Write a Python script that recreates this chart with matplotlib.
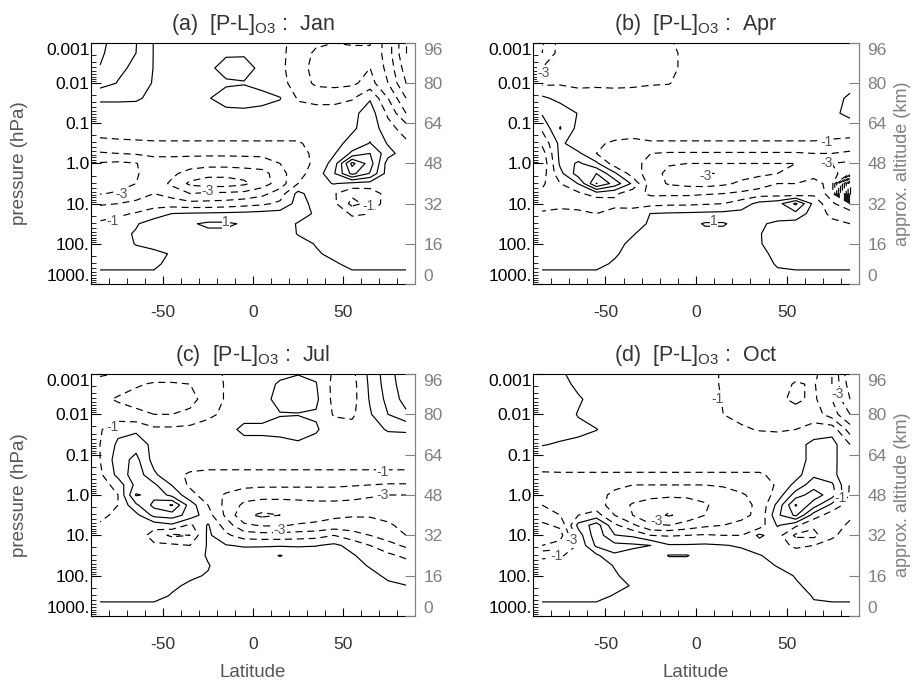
import numpy as np
import matplotlib
matplotlib.use('Agg')
import matplotlib.pyplot as plt

plt.rcParams['font.family'] = ['Liberation Sans', 'DejaVu Sans']
plt.rcParams['mathtext.fontset'] = 'custom'
plt.rcParams['mathtext.rm'] = 'Liberation Sans'
plt.rcParams['axes.unicode_minus'] = False

# grid: latitude columns, approx. altitude rows (km, top to bottom)
lats = [-85, -75, -65, -55, -45, -35, -25, -15, -5, 5, 15, 25, 35, 45, 55, 65, 75, 85]
alt_km = [98, 92, 86, 80, 74, 68, 62, 56, 52, 48, 44, 40, 36, 32, 28, 24, 20, 16, 12, 8, 5]

# ozone P-L, rows follow alt_km, columns follow lats
pl_jan = [
    [2.3, 1.6, 1.05, -0.05, -0.3, -0.3, -0.3, -0.2, -0.2, -0.3, -0.8, -1.3, -1.6, -1.8, -1.7, -1.9, -3.5, -6.0],
    [2.2, 1.4, 1.0, -0.05, -0.3, -0.3, -0.3, -0.1, -0.1, -0.3, -0.8, -1.4, -2.2, -2.4, -2.3, -2.1, -3.5, -6.0],
    [1.95, 1.2, 0.8, -0.05, -0.3, -0.3, -0.15, 0.25, 0.3, -0.2, -0.8, -1.5, -2.4, -2.6, -2.5, -2.0, -3.3, -5.5],
    [1.45, 0.95, 0.6, -0.1, -0.3, -0.3, -0.2, -0.1, -0.05, -0.3, -0.7, -1.4, -2.2, -2.3, -2.2, -1.6, -3.0, -5.0],
    [0.1, 0.1, 0.08, -0.15, -0.3, -0.3, -0.05, 0.3, 0.4, 0.3, 0.05, -1.1, -1.3, -1.3, -1.1, -0.1, -2.0, -4.0],
    [-0.3, -0.3, -0.3, -0.3, -0.4, -0.4, -0.3, -0.2, -0.2, -0.3, -0.4, -0.6, -0.6, -0.6, -0.3, 0.5, -1.2, -3.0],
    [-0.5, -0.5, -0.5, -0.5, -0.5, -0.5, -0.5, -0.5, -0.5, -0.5, -0.5, -0.5, -0.5, -0.5, -0.2, 0.6, -0.6, -1.5],
    [-1.3, -1.2, -1.15, -1.1, -1.1, -1.1, -1.1, -1.1, -1.1, -1.1, -1.1, -1.1, -0.7, -0.4, 0.4, 1.05, -0.1, -0.8],
    [-2.1, -2.0, -1.9, -1.8, -1.8, -1.8, -1.8, -1.8, -1.8, -1.8, -1.6, -1.3, -0.8, -0.1, 1.2, 2.0, 0.4, -0.6],
    [-3.1, -3.2, -3.05, -2.4, -2.4, -2.5, -2.6, -2.6, -2.5, -2.4, -2.0, -1.4, -0.8, 0.4, 4.3, 2.5, -0.5, -0.8],
    [-3.4, -3.4, -3.1, -2.5, -2.8, -3.4, -3.7, -3.7, -3.6, -3.4, -2.4, -1.3, -0.6, 0.9, 3.3, 1.9, -0.5, -0.9],
    [-3.3, -3.3, -3.0, -2.4, -3.2, -4.2, -4.5, -4.5, -4.2, -3.5, -2.5, -1.0, -0.3, 0.05, -0.3, -0.4, -0.5, -0.6],
    [-3.05, -2.9, -2.4, -2.0, -2.4, -3.0, -2.8, -2.8, -2.7, -2.3, -1.5, 0.3, -0.6, -0.9, -1.8, -1.6, -0.6, -0.4],
    [-2.1, -2.0, -1.8, -1.4, -1.5, -1.7, -1.7, -1.6, -1.4, -1.2, -0.8, 0.4, -0.3, -0.8, -2.3, -1.7, -0.5, -0.3],
    [-1.5, -1.2, -0.9, -0.5, 0.02, 0.1, 0.15, 0.2, 0.25, 0.35, 0.4, 0.6, -0.2, -0.5, -1.1, -1.0, -0.4, -0.2],
    [-0.8, -0.6, -0.1, 0.5, 0.8, 0.9, 1.15, 1.15, 0.9, 0.7, 0.6, -0.1, -0.3, -0.4, -0.7, -0.6, -0.3, -0.2],
    [-0.5, -0.3, 0.1, 0.5, 0.6, 0.7, 0.8, 0.8, 0.7, 0.6, 0.5, -0.05, -0.3, -0.4, -0.5, -0.4, -0.3, -0.2],
    [-0.4, -0.4, 0.05, 0.4, 0.5, 0.6, 0.6, 0.6, 0.6, 0.5, 0.5, 0.3, -0.05, -0.3, -0.4, -0.3, -0.3, -0.2],
    [-0.3, -0.3, -0.3, -0.3, 0.1, 0.4, 0.5, 0.5, 0.5, 0.5, 0.4, 0.3, 0.1, -0.2, -0.3, -0.3, -0.2, -0.2],
    [-0.2, -0.2, -0.2, -0.2, 0.3, 0.4, 0.4, 0.4, 0.4, 0.4, 0.4, 0.3, 0.2, 0.1, -0.2, -0.2, -0.2, -0.2],
    [0.05, 0.05, 0.05, 0.05, 0.3, 0.3, 0.3, 0.3, 0.3, 0.3, 0.3, 0.3, 0.2, 0.2, 0.05, 0.05, 0.05, 0.05],
]

pl_apr = [
    [-3.2, -1.6, -1.3, -1.3, -1.2, -1.2, -1.1, -1.05, -0.7, -0.5, -0.4, -0.3, -0.3, -0.3, -0.3, -0.3, -0.3, -0.3],
    [-3.0, -1.6, -1.4, -1.4, -1.3, -1.25, -1.2, -1.2, -0.8, -0.5, -0.4, -0.3, -0.3, -0.3, -0.3, -0.3, -0.3, -0.3],
    [-2.0, -1.5, -1.5, -1.4, -1.3, -1.3, -1.3, -1.2, -0.8, -0.5, -0.4, -0.3, -0.3, -0.3, -0.3, -0.3, -0.3, -0.3],
    [-1.2, -1.1, -1.2, -1.2, -1.2, -1.2, -1.1, -1.05, -0.6, -0.4, -0.4, -0.3, -0.3, -0.3, -0.3, -0.3, -0.3, -0.3],
    [0.2, -0.3, -0.6, -0.5, -0.6, -0.5, -0.4, -0.4, -0.3, -0.3, -0.3, -0.3, -0.3, -0.3, -0.3, -0.3, -0.3, 0.15],
    [0.1, 0.6, -0.05, -0.4, -0.4, -0.4, -0.3, -0.3, -0.3, -0.3, -0.3, -0.3, -0.3, -0.3, -0.3, -0.3, -0.2, 0.25],
    [-0.8, 1.05, -0.3, -0.5, -0.6, -0.6, -0.5, -0.5, -0.5, -0.5, -0.5, -0.5, -0.5, -0.5, -0.5, -0.5, -0.5, -0.5],
    [-1.8, 0.3, -0.8, -0.9, -1.1, -1.2, -1.1, -1.1, -1.1, -1.1, -1.1, -1.1, -1.1, -1.1, -1.1, -1.1, -1.2, -1.3],
    [-2.5, 0.3, 0.2, -1.0, -1.3, -1.6, -2.0, -2.1, -2.1, -2.1, -2.1, -2.1, -2.1, -2.1, -2.1, -2.0, -2.0, -2.2],
    [-2.8, 0.2, 1.2, 0.2, -1.5, -1.6, -2.4, -2.9, -3.0, -3.0, -3.0, -3.0, -3.0, -3.0, -3.0, -2.9, -3.0, -3.2],
    [-2.5, -0.3, 1.5, 2.0, 0.2, -1.5, -2.5, -3.3, -3.7, -4.1, -3.9, -3.4, -3.2, -3.0, -2.8, -2.5, -2.5, -4.0],
    [-2.2, -1.0, 0.05, 3.05, 1.6, -0.2, -2.5, -3.1, -3.3, -3.4, -3.2, -2.8, -2.5, -2.0, -2.0, -1.5, -2.5, -12.0],
    [-1.8, -1.5, -1.2, -0.5, -0.8, -1.6, -2.2, -2.2, -2.2, -2.1, -2.0, -1.8, -1.5, -1.5, -1.8, -1.2, -2.5, -12.0],
    [-1.3, -1.2, -1.5, -1.8, -1.3, -1.5, -1.3, -1.2, -1.2, -1.1, -1.0, -0.5, 0.3, 0.6, 2.2, -0.3, -1.8, -3.0],
    [-0.9, -0.8, -0.7, -1.0, -0.6, -0.4, 0.02, 0.1, 0.15, 0.2, 0.25, 0.3, 0.4, 0.8, 0.7, -0.5, -1.2, -1.5],
    [-0.6, -0.5, -0.5, -0.6, -0.3, -0.3, 0.1, 0.5, 0.6, 1.1, 1.1, 0.6, 0.2, -0.3, -0.4, -0.6, -0.8, -1.0],
    [-0.4, -0.4, -0.4, -0.4, -0.1, -0.05, 0.3, 0.5, 0.6, 0.7, 0.7, 0.5, 0.05, -0.4, -0.4, -0.5, -0.5, -0.6],
    [-0.3, -0.3, -0.3, -0.3, -0.2, 0.15, 0.4, 0.5, 0.5, 0.5, 0.5, 0.4, 0.05, -0.3, -0.3, -0.4, -0.4, -0.4],
    [-0.3, -0.3, -0.3, -0.3, -0.1, 0.3, 0.4, 0.4, 0.4, 0.4, 0.4, 0.4, 0.1, -0.1, -0.3, -0.3, -0.3, -0.3],
    [-0.2, -0.2, -0.2, -0.2, 0.1, 0.3, 0.4, 0.4, 0.4, 0.4, 0.4, 0.3, 0.2, -0.05, -0.2, -0.2, -0.2, -0.2],
    [0.05, 0.05, 0.05, 0.05, 0.3, 0.3, 0.3, 0.3, 0.3, 0.3, 0.3, 0.3, 0.2, 0.05, 0.05, 0.05, 0.05, 0.05],
]

pl_jul = [
    [-0.8, -0.8, -1.0, -1.2, -1.2, -1.2, -1.3, -0.9, -0.3, -0.3, -0.3, -0.2, -0.3, -1.1, -1.2, 0.3, 1.6, 2.8],
    [-1.2, -1.6, -1.9, -2.1, -2.1, -2.0, -1.6, -0.9, -0.3, -0.3, 0.1, 0.3, 0.05, -1.3, -1.4, 0.2, 1.5, 2.6],
    [-1.8, -2.1, -2.3, -2.4, -2.4, -2.3, -1.6, -0.9, -0.3, -0.3, 0.3, 0.5, 0.2, -1.3, -1.4, 0.1, 1.3, 2.4],
    [-2.0, -1.6, -1.8, -2.0, -2.0, -1.8, -1.2, -0.8, -0.3, -0.3, -0.05, -0.05, -0.1, -1.1, -1.2, -0.1, 1.0, 1.8],
    [-1.1, -0.3, -0.2, -0.8, -0.8, -0.7, -0.6, -0.3, 0.2, 0.2, 0.3, 0.6, 0.1, -0.5, -0.6, -0.2, 0.05, 0.1],
    [-1.0, 0.2, 0.6, -0.3, -0.4, -0.4, -0.4, -0.3, -0.3, -0.3, -0.3, -0.2, -0.3, -0.3, -0.3, -0.3, -0.3, -0.4],
    [-1.0, 0.5, 1.3, -0.4, -0.5, -0.6, -0.6, -0.6, -0.6, -0.6, -0.6, -0.6, -0.6, -0.6, -0.6, -0.6, -0.6, -0.6],
    [-1.2, 0.3, 1.6, 0.2, -0.8, -1.1, -1.2, -1.2, -1.2, -1.2, -1.2, -1.2, -1.2, -1.2, -1.2, -1.2, -1.2, -1.2],
    [-1.5, -0.6, 1.3, 1.2, -0.05, -1.2, -1.5, -1.6, -1.7, -1.8, -1.8, -1.8, -1.8, -1.8, -1.9, -2.0, -2.1, -2.1],
    [-1.7, -1.0, 2.1, 1.7, 0.7, -0.6, -1.6, -2.1, -2.6, -2.7, -2.7, -2.7, -2.7, -2.7, -2.8, -2.9, -3.0, -3.0],
    [-1.5, -1.0, 0.8, 2.3, 3.1, 0.5, -1.0, -2.3, -3.2, -3.4, -3.4, -3.3, -3.2, -3.2, -3.2, -3.3, -3.3, -3.3],
    [-1.2, -0.8, -0.3, 1.3, 1.5, 0.6, -0.6, -2.2, -3.8, -4.2, -4.0, -3.6, -3.4, -3.2, -3.1, -3.1, -3.2, -3.3],
    [-0.9, -0.6, -0.5, -0.6, -0.2, -1.2, 0.1, -1.5, -2.8, -3.1, -3.1, -2.9, -2.8, -2.6, -2.5, -2.6, -2.9, -3.2],
    [-0.6, -0.4, -0.3, -1.5, -2.2, -2.0, 0.2, -0.8, -1.5, -1.6, -1.6, -1.5, -1.4, -1.0, -1.6, -2.0, -2.5, -3.0],
    [-0.4, -0.3, -0.3, -0.8, -0.8, -1.0, 0.1, 0.05, -0.1, -0.1, -0.1, -0.1, -0.05, 0.2, -0.3, -1.0, -1.6, -2.2],
    [-0.3, -0.2, -0.2, -0.4, -0.3, -0.5, 0.1, 0.4, 0.5, 0.6, 1.05, 0.6, 0.6, 0.6, 0.1, -0.4, -0.8, -1.2],
    [-0.2, -0.2, -0.2, -0.3, -0.2, -0.3, -0.05, 0.4, 0.5, 0.5, 0.6, 0.5, 0.5, 0.5, 0.4, -0.1, -0.5, -0.6],
    [-0.2, -0.2, -0.2, -0.3, -0.1, -0.1, 0.05, 0.4, 0.5, 0.5, 0.5, 0.5, 0.5, 0.5, 0.4, 0.3, -0.2, -0.3],
    [-0.2, -0.2, -0.2, -0.3, -0.1, 0.1, 0.3, 0.4, 0.4, 0.4, 0.4, 0.4, 0.4, 0.4, 0.4, 0.4, 0.2, 0.02],
    [-0.2, -0.2, -0.2, -0.2, 0.05, 0.3, 0.3, 0.4, 0.4, 0.4, 0.4, 0.4, 0.4, 0.4, 0.4, 0.4, 0.4, 0.3],
    [0.05, 0.05, 0.05, 0.05, 0.2, 0.3, 0.3, 0.3, 0.3, 0.3, 0.3, 0.3, 0.3, 0.4, 0.4, 0.4, 0.4, 0.4],
]

pl_oct = [
    [0.5, 0.05, -0.3, -0.3, -0.3, -0.3, -0.3, -0.3, -0.4, -0.7, -1.1, -1.2, -1.2, -1.3, -1.5, -1.6, -3.0, -6.0],
    [0.5, 0.3, -0.2, -0.3, -0.3, -0.3, -0.3, -0.3, -0.4, -0.7, -1.1, -1.3, -1.4, -1.6, -2.1, -1.9, -3.0, -5.5],
    [0.5, 0.3, 0.1, -0.3, -0.3, -0.3, -0.3, -0.3, -0.4, -0.6, -1.05, -1.3, -1.5, -1.8, -2.2, -1.8, -3.0, -5.0],
    [0.5, 0.4, -0.05, -0.3, -0.3, -0.3, -0.3, -0.3, -0.4, -0.5, -1.0, -1.2, -1.4, -1.5, -1.6, -1.5, -2.5, -4.0],
    [0.4, 0.35, 0.2, 0.02, -0.3, -0.3, -0.3, -0.3, -0.3, -0.3, -0.5, -0.9, -1.05, -1.1, -1.0, -0.6, -0.4, -2.5],
    [0.05, -0.1, -0.2, -0.3, -0.3, -0.3, -0.3, -0.3, -0.3, -0.3, -0.3, -0.4, -0.5, -0.5, -0.4, 0.3, 0.4, -1.0],
    [-0.6, -0.5, -0.5, -0.5, -0.5, -0.5, -0.5, -0.5, -0.5, -0.5, -0.5, -0.5, -0.5, -0.5, -0.4, 0.3, 0.2, -0.5],
    [-1.1, -1.1, -1.1, -1.1, -1.1, -1.1, -1.1, -1.1, -1.1, -1.1, -1.1, -1.1, -1.1, -0.8, -0.4, 0.8, 0.3, -0.8],
    [-1.6, -1.7, -1.5, -1.6, -1.8, -2.0, -2.0, -2.0, -2.0, -2.0, -1.9, -1.7, -1.4, -0.9, 0.3, 1.6, 1.2, -1.1],
    [-1.8, -1.8, -1.4, -1.7, -2.2, -2.6, -2.7, -2.8, -2.8, -2.7, -2.4, -2.1, -1.7, -0.6, 1.5, 2.5, 1.5, -1.2],
    [-2.0, -1.6, -1.2, -1.5, -2.5, -3.1, -3.5, -3.7, -3.5, -3.1, -2.6, -2.3, -1.8, 0.3, 3.1, 1.5, -0.3, -1.5],
    [-2.5, -2.0, -1.0, -0.6, -2.0, -3.0, -3.6, -4.1, -3.6, -3.0, -2.5, -2.2, -1.8, 0.8, 2.2, -0.5, -1.5, -1.2],
    [-3.2, -2.8, 0.3, 1.5, -0.8, -1.8, -2.9, -3.0, -2.6, -2.2, -2.0, -1.8, -1.5, 0.1, -0.8, -1.8, -1.5, -0.8],
    [-3.6, -3.4, -0.5, 1.6, 0.05, -0.2, -1.0, -1.1, -1.0, -0.9, -1.0, -1.0, 0.2, -0.6, -2.2, -2.3, -1.2, -0.5],
    [-3.0, -2.6, -0.8, 1.2, 1.3, 1.2, 1.0, 0.1, 0.1, 0.15, 0.05, -0.1, -0.5, -0.6, -1.2, -1.0, -0.6, -0.3],
    [-1.2, -1.1, -0.6, -0.2, 0.9, 0.6, 0.4, 1.05, 1.05, 0.6, 0.5, 0.3, 0.05, -0.3, -0.5, -0.5, -0.3, -0.2],
    [-0.6, -0.5, -0.4, -0.4, 0.05, 0.4, 0.4, 0.6, 0.6, 0.5, 0.5, 0.4, 0.3, -0.05, -0.2, -0.3, -0.3, -0.2],
    [-0.4, -0.4, -0.3, -0.3, -0.1, 0.3, 0.4, 0.5, 0.5, 0.5, 0.5, 0.4, 0.4, 0.3, -0.05, -0.2, -0.2, -0.2],
    [-0.3, -0.3, -0.3, -0.3, -0.2, 0.05, 0.4, 0.4, 0.4, 0.4, 0.4, 0.4, 0.4, 0.4, 0.1, -0.2, -0.2, -0.2],
    [-0.2, -0.2, -0.2, -0.2, 0.05, 0.3, 0.4, 0.4, 0.4, 0.4, 0.4, 0.4, 0.4, 0.4, 0.3, -0.05, -0.2, -0.2],
    [0.05, 0.05, 0.05, 0.05, 0.3, 0.3, 0.3, 0.3, 0.3, 0.3, 0.3, 0.3, 0.3, 0.3, 0.3, 0.05, 0.05, 0.05],
]

months = ['Jan', 'Apr', 'Jul', 'Oct']
tags = ['(a)', '(b)', '(c)', '(d)']
z_ticks = [0, 16, 32, 48, 64, 80, 96]
p_labels = ['1000.', '100.', '10.', '1.0', '0.1', '0.01', '0.001']

neg_levels = [-12, -11, -10, -9, -8, -7, -6, -5, -4, -3, -2, -1]
pos_levels = [0, 1, 2, 3, 4, 5, 6, 7]

# contour labels: (text, lat, alt)
labels_jan = [('-1', -78, 25), ('-3', -73, 36), ('-3', -25, 37), ('1', -15, 24.5), ('-1', 64, 31)]
labels_apr = [('-1', 72, 56.5), ('-3', 72, 48), ('-3', 5, 43), ('1', 10, 25), ('-3', -84, 84)]
labels_jul = [('-1', 72, 57), ('-3', 72, 48), ('-1', -78, 75), ('-3', 15, 34)]
labels_oct = [('-3', -22, 37.5), ('-1', 12, 86), ('-3', 78, 88), ('-3', -69, 30), ('-1', -77, 24), ('-1', 80, 47)]

fields = [pl_jan, pl_apr, pl_jul, pl_oct]
all_labels = [labels_jan, labels_apr, labels_jul, labels_oct]
boxes = [[0.0996, 0.5824, 0.3545, 0.3544],
         [0.5832, 0.5824, 0.3567, 0.3544],
         [0.0996, 0.0941, 0.3545, 0.3559],
         [0.5832, 0.0941, 0.3567, 0.3559]]

grey = '#808080'
minor_z = [16 * np.log10(1000.0 / (m * 10.0 ** e)) for e in range(-3, 3) for m in range(2, 10)]
minor_z = [v for v in minor_z if 0 < v < 96]

fig = plt.figure(figsize=(9.14, 6.8), dpi=100)

for i in range(4):
    ax = fig.add_axes(boxes[i])
    z = np.array(fields[i])[::-1]
    y = np.array(alt_km)[::-1]

    cn = ax.contour(lats, y, z, levels=neg_levels, colors='k', linewidths=0.85)
    cn.set_linestyle((0, (6, 4)))
    ax.contour(lats, y, z, levels=pos_levels, colors='k', linewidths=0.85, linestyles='solid')

    for txt, lx, ly in all_labels[i]:
        ax.text(lx, ly, txt, fontsize=10, color='#555555', ha='center', va='center',
                bbox=dict(fc='white', ec='none', pad=0.3))

    ax.set_xlim(-90, 90)
    ax.set_ylim(0, 96)

    ax.set_yticks(z_ticks)
    ax.set_yticklabels(p_labels, fontsize=12.5, color='k')
    ax.set_yticks(minor_z, minor=True)
    ax.tick_params(axis='y', which='both', direction='in', left=True, right=False, pad=1)
    ax.tick_params(axis='y', which='major', length=7)
    ax.tick_params(axis='y', which='minor', length=3.5)
    ylabs = ax.get_yticklabels()
    ylabs[0].set_va('bottom')
    ylabs[-1].set_va('top')

    ax.set_xticks([-50, 0, 50])
    ax.set_xticks(range(-80, 90, 10), minor=True)
    ax.tick_params(axis='x', which='both', direction='in', top=False, bottom=True,
                   labelsize=12.5, labelcolor='#333333', pad=15)
    ax.tick_params(axis='x', which='major', length=6)
    ax.tick_params(axis='x', which='minor', length=4)
    ax.spines['right'].set_color(grey)

    ax2 = ax.twinx()
    ax2.set_ylim(0, 96)
    ax2.set_yticks(z_ticks)
    ax2.set_yticklabels([str(t) for t in z_ticks], fontsize=12.5, color=grey)
    ax2.tick_params(axis='y', direction='in', length=7, color=grey, pad=6)
    for s in ['left', 'top', 'bottom']:
        ax2.spines[s].set_visible(False)
    ax2.spines['right'].set_color(grey)
    rlabs = ax2.get_yticklabels()
    rlabs[0].set_va('bottom')
    rlabs[-1].set_va('top')

    ax.set_title(tags[i] + '  [P-L]$_{\\rm O3}$ :  ' + months[i], fontsize=15.5,
                 color='#333333', pad=9)
    if i in (0, 2):
        ax.set_ylabel('pressure (hPa)', fontsize=13.5, color='#555555', labelpad=13)
    else:
        ax2.set_ylabel('approx. altitude (km)', fontsize=13, color=grey, labelpad=5)
    if i in (2, 3):
        ax.set_xlabel('Latitude', fontsize=13.5, color='#555555', labelpad=9)

fig.savefig('out.png', dpi=100)
